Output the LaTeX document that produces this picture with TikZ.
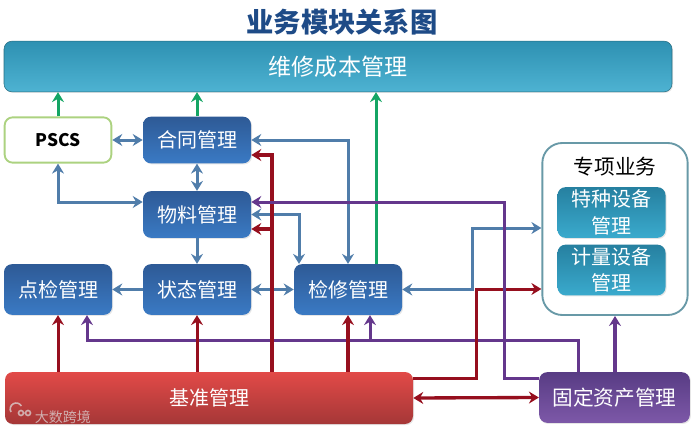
\documentclass[tikz,border=0pt]{standalone}
\usepackage{fontspec}
\setmainfont{Noto Sans CJK SC}
\usetikzlibrary{arrows.meta,shadows}
\definecolor{navy}{RGB}{30,75,135}
\definecolor{bluetop}{RGB}{46,90,150}
\definecolor{bluelow}{RGB}{58,122,196}
\definecolor{tealtop}{RGB}{38,128,160}
\definecolor{teallow}{RGB}{58,170,205}
\definecolor{tealedge}{RGB}{40,110,130}
\definecolor{redtop}{RGB}{226,74,72}
\definecolor{redlow}{RGB}{165,55,55}
\definecolor{plumtop}{RGB}{88,60,132}
\definecolor{plumlow}{RGB}{125,88,168}
\definecolor{wireblue}{RGB}{80,125,170}
\definecolor{wirered}{RGB}{150,15,30}
\definecolor{wireplum}{RGB}{100,55,140}
\definecolor{wiregreen}{RGB}{20,165,100}
\tikzset{
  >={Stealth[length=7.5pt,width=9pt,inset=2.5pt]},
  mod/.style={rounded corners=6pt,inner sep=0pt,align=center,text=white,
    font=\fontsize{15}{19}\selectfont,minimum width=81pt,minimum height=35pt,
    top color=#1top,bottom color=#1low,drop shadow={opacity=0.2,shadow xshift=0.8pt,shadow yshift=-0.8pt}},
  mod/.default=blue,
  link/.style={->,draw=wire#1,line width=2.25pt},
  link/.default=blue,
  twoway/.style={<->,draw=wire#1,line width=2.25pt},
  twoway/.default=blue,
}
\begin{document}
\begin{tikzpicture}[x=0.75pt,y=-0.75pt]
  \useasboundingbox (0,0) rectangle (694,432);
  \node[font=\bfseries\fontsize{20.5}{24}\selectfont,text=navy] (title) at (342,22) {业务模块关系图};
  \node[mod=teal,top color=tealtop!60!teallow,bottom color=teallow!90!white,draw=tealedge,minimum width=501pt,minimum height=38pt,font=\fontsize{17.3}{20}\selectfont] (cost) at (338,66.5) {维修成本管理};
  \node[rounded corners=6pt,draw=green!30!olive!50!white,fill=white,line width=1.4pt,minimum width=80pt,minimum height=34pt,inner sep=0pt,font=\bfseries\fontsize{13}{16}\selectfont] (pscs) at (58,140) {PSCS};
  \node[mod] (contract) at (197,140) {合同管理};
  \node[mod] (material) at (197,214.5) {物料管理};
  \node[mod,minimum height=38pt] (inspect) at (58,289.5) {点检管理};
  \node[mod,minimum height=38pt] (state) at (197,289.5) {状态管理};
  \node[mod,minimum height=38pt] (repair) at (348,289.5) {检修管理};
  \node[rounded corners=15pt,draw=tealedge!70,fill=white,line width=1.4pt,minimum width=109pt,minimum height=129pt] (special) at (615,229) {};
  \node[font=\fontsize{15.5}{18}\selectfont] (specialname) at (615,167) {专项业务};
  \node[mod=teal,font=\fontsize{15}{20}\selectfont,minimum height=38pt] (equip) at (611.5,212.5) {特种设备\\管理};
  \node[mod=teal,font=\fontsize{15}{20}\selectfont,minimum height=38pt] (measure) at (611.5,270) {计量设备\\管理};
  \node[mod=red,minimum width=306pt,minimum height=39pt] (base) at (209,398) {基准管理};
  \node[mod=plum,font=\fontsize{15.5}{19}\selectfont,minimum width=113pt,minimum height=38pt] (asset) at (614.5,397.5) {固定资产管理};
  % green
  \draw[link=green] (pscs) -- (pscs |- cost.south);
  \draw[link=green] (contract) -- (contract |- cost.south);
  \draw[link=green] (376,0 |- repair.north) -- (376,0 |- cost.south);
  % blue
  \draw[twoway] (pscs.east) -- (contract.west);
  \draw[twoway] (pscs.south) |- (material.west |- 0,202);
  \draw[twoway] (contract.south) -- (material.north);
  \draw[link] (material.south) -- (state.north);
  \draw[link] (state.west) -- (inspect.east);
  \draw[twoway] (state.east) -- (repair.west);
  \draw[twoway] (contract.east) -| (repair.north);
  \draw[twoway] (material.east) -| (299,0 |- repair.north);
  \draw[twoway] (repair.east) -- (472,289.5) |- (special.west |- 0,228);
  % purple and red
  \draw[link=plum] (asset.north -| 578,0) |- (87,340) -- (87,0 |- inspect.south);
  \draw[link=plum] (370,340) -- (370,0 |- repair.south);
  \draw[link=red,line width=2.5pt] (272,0 |- base.north) |- (contract.east |- 0,155);
  \draw[link=red,line width=2.5pt] (272,229) -- (material.east |- 0,229);
  \draw[link=red] (inspect |- base.north) -- (inspect.south);
  \draw[link=red] (state |- base.north) -- (state.south);
  \draw[link=red,line width=2.5pt] (repair |- base.north) -- (repair.south);
  \draw[link=red] (base.east |- 0,378) -| (476,289) -- (special.west |- 0,289);
  \draw[twoway=red,line width=2.5pt] (base.east) -- (asset.west);
  \draw[link=plum] (asset.west |- 0,378) -| (504,202) -- (material.east |- 0,202);
  \draw[link=plum,line width=2.5pt] (asset.north -| special.south) -- (special.south);
  % mark in the corner
  \node[text=white!75!gray,opacity=0.7,font=\fontsize{10.5}{12}\selectfont,inner sep=0pt] (mark) at (63,417) {大数跨境};
  \draw[white!75!gray,opacity=0.7,line width=1.2pt] (11,412) arc (150:330:6) (21,413) circle (2.5) (28,413) circle (2.5);
\end{tikzpicture}
\end{document}
